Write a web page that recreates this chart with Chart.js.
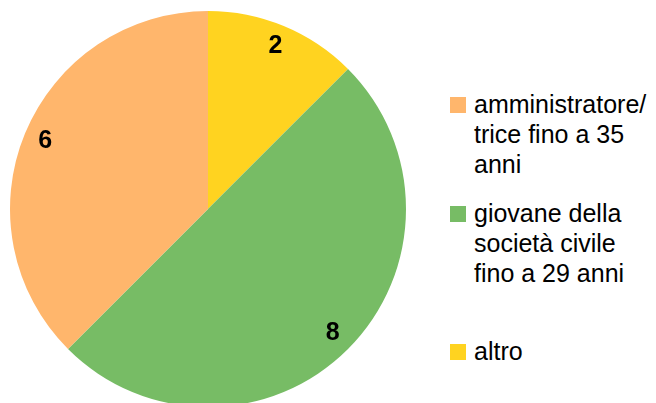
<!DOCTYPE html>
<html>
<head>
<meta charset="utf-8">
<script src="https://cdn.jsdelivr.net/npm/chart.js@4"></script>
<style>
    body { margin: 0; width: 656px; height: 403px; overflow: hidden; background: #fff; position: relative; font-family: "Liberation Sans", Arial, sans-serif; }
    #wrap { position: absolute; left: 0; top: 0; width: 416px; height: 407px; }
    .item { position: absolute; left: 450px; }
    .box { position: absolute; left: 0; width: 16px; height: 16px; }
    .txt { position: absolute; left: 24px; top: 0; font-size: 25px; line-height: 30px; color: #000; white-space: nowrap; }
</style>
</head>
<body>
<div id="wrap"><canvas id="myChart"></canvas></div>
<div id="legend"></div>
<script>
// legend order (LibreOffice draws the slices counter-clockwise)
const categories = [
    ['amministratore/', 'trice fino a 35', 'anni'],
    ['giovane della', 'società civile', 'fino a 29 anni'],
    ['altro']
];
const values = [6, 8, 2];
const colors = ['#ffb66c', '#77bc65', '#ffd320'];

$ready();

function $ready() {
    // Chart.js goes clockwise, so feed it reversed
    const order = [2, 1, 0];

    const labelPlugin = {
        id: 'sliceLabels',
        afterDatasetsDraw(chart) {
            const c = chart.ctx;
            const meta = chart.getDatasetMeta(0);
            c.save();
            c.font = 'bold 25px "Liberation Sans", Arial, sans-serif';
            c.fillStyle = '#000';
            c.textAlign = 'center';
            c.textBaseline = 'middle';
            meta.data.forEach((arc, i) => {
                const mid = (arc.startAngle + arc.endAngle) / 2;
                const r = arc.outerRadius * 0.89;
                c.fillText(String(chart.data.datasets[0].data[i]),
                    arc.x + Math.cos(mid) * r, arc.y + Math.sin(mid) * r);
            });
            c.restore();
        }
    };

    new Chart(document.getElementById('myChart'), {
        type: 'pie',
        data: {
            labels: order.map(i => categories[i].join(' ')),
            datasets: [{
                data: order.map(i => values[i]),
                backgroundColor: order.map(i => colors[i]),
                borderWidth: 0
            }]
        },
        options: {
            responsive: true,
            maintainAspectRatio: false,
            animation: false,
            layout: { padding: { top: 11, left: 10, right: 10, bottom: 0 } },
            plugins: {
                legend: { display: false },
                tooltip: { enabled: false }
            }
        },
        plugins: [labelPlugin]
    });

    // legend on the right, built from the same arrays
    const tops = [97, 206, 344];
    const legend = document.getElementById('legend');
    categories.forEach((lines, i) => {
        const item = document.createElement('div');
        item.className = 'item';
        item.style.top = tops[i] + 'px';
        const box = document.createElement('div');
        box.className = 'box';
        box.style.background = colors[i];
        const txt = document.createElement('div');
        txt.className = 'txt';
        txt.style.top = '-8px';
        txt.innerHTML = lines.join('<br>');
        item.appendChild(box);
        item.appendChild(txt);
        legend.appendChild(item);
    });
}
</script>
</body>
</html>
